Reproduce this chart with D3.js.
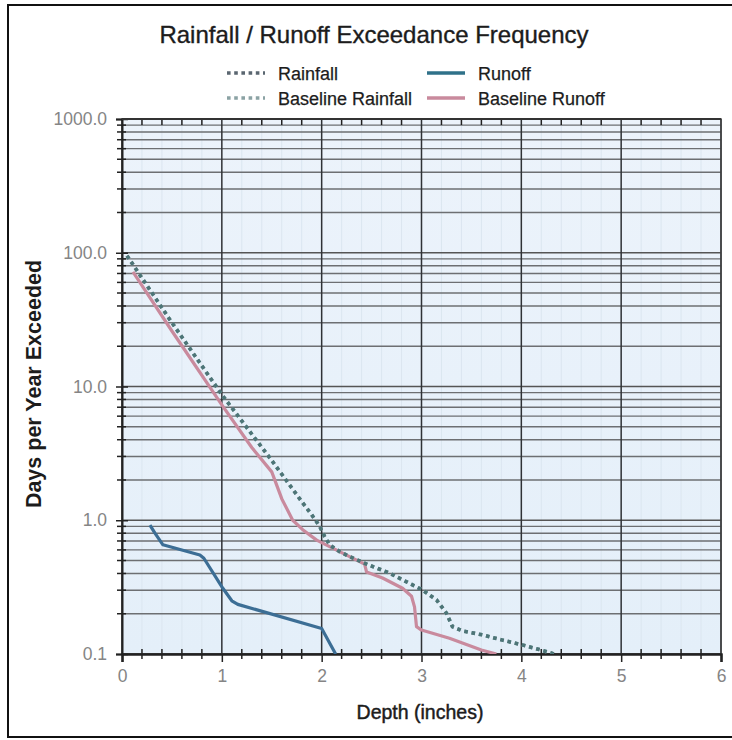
<!DOCTYPE html>
<html><head><meta charset="utf-8">
<script src="https://cdn.jsdelivr.net/npm/d3@7"></script>
<style>body{margin:0;background:#fff;} text{font-family:"Liberation Sans",Arial,sans-serif;}</style>
</head><body><svg id="c" width="732" height="740"></svg>
<script>
// ---- data ----
const title = "Rainfall / Runoff Exceedance Frequency";
const seriesNames = ["Rainfall", "Baseline Rainfall", "Runoff", "Baseline Runoff"];
const xTicks = [0, 1, 2, 3, 4, 5, 6];
const yTicks = [0.1, 1, 10, 100, 1000];
const yTickLabels = ["0.1", "1.0", "10.0", "100.0", "1000.0"];
const rainfallDepth = [0.05, 0.5, 1.0, 1.5, 1.8, 1.9, 1.98, 2.03, 2.08, 2.18, 2.28, 2.43, 2.68, 3.01, 3.15, 3.25, 3.31, 3.41, 3.61, 3.81, 4.01, 4.18, 4.33];
const rainfallDays  = [95, 30, 8.7, 2.8, 1.38, 1.1, 0.9, 0.755, 0.655, 0.583, 0.535, 0.477, 0.402, 0.301, 0.254, 0.202, 0.16, 0.149, 0.139, 0.127, 0.117, 0.108, 0.1];
const baseRainfallDepth = rainfallDepth.slice();
const baseRainfallDays  = rainfallDays.slice();
const runoffDepth = [0.28, 0.33, 0.41, 0.78, 0.82, 1.01, 1.1, 1.16, 2.0, 2.14];
const runoffDays  = [0.92, 0.8, 0.655, 0.55, 0.52, 0.31, 0.25, 0.235, 0.155, 0.1];
const baseRunoffDepth = [0.11, 0.5, 1.0, 1.3, 1.5, 1.6, 1.71, 1.81, 1.95, 2.08, 2.28, 2.43, 2.45, 2.61, 2.81, 2.9, 2.93, 2.95, 3.0, 3.28, 3.6, 3.75];
const baseRunoffDays  = [72, 26, 7.3, 3.5, 2.3, 1.45, 1.0, 0.85, 0.71, 0.635, 0.535, 0.47, 0.41, 0.37, 0.31, 0.27, 0.225, 0.16, 0.151, 0.131, 0.107, 0.1];

// ---- layout ----
const svg = d3.select("#c");
const L = 122, R = 721, T = 119, B = 654;
const x = d3.scaleLinear().domain([0, 6]).range([L, R]);
const y = d3.scaleLog().domain([0.1, 1000]).range([B, T]);

// outer frame
svg.append("rect").attr("x", 8).attr("y", 5).attr("width", 740).attr("height", 732)
  .attr("fill", "#fff").attr("stroke", "#111").attr("stroke-width", 2);

// plot background
const grad = svg.append("defs").append("linearGradient").attr("id", "bg").attr("x1", 0).attr("y1", 0).attr("x2", 0).attr("y2", 1);
grad.append("stop").attr("offset", "0%").attr("stop-color", "#ecf3fb");
grad.append("stop").attr("offset", "100%").attr("stop-color", "#e4eff9");
svg.append("rect").attr("x", L).attr("y", T).attr("width", R - L).attr("height", B - T).attr("fill", "url(#bg)");

// light minor vertical lines
const minorX = d3.range(0, 6.001, 0.2).filter(v => Math.abs(v - Math.round(v)) > 1e-6);
svg.append("g").selectAll("line").data(minorX).join("line")
  .attr("x1", d => x(d)).attr("x2", d => x(d)).attr("y1", T).attr("y2", B)
  .attr("stroke", "#dbe6f0").attr("stroke-width", 1);

// horizontal grid: every 1..9 per decade
const hLines = [];
[0.1, 1, 10, 100].forEach(dec => { for (let k = 1; k <= 9; k++) hLines.push(dec * k); });
hLines.push(1000);
svg.append("g").selectAll("line").data(hLines).join("line")
  .attr("x1", L).attr("x2", R).attr("y1", d => y(d)).attr("y2", d => y(d))
  .attr("stroke", d => yTicks.includes(+d.toPrecision(6)) ? "#555" : "#6d6f72")
  .attr("stroke-width", 1.4);

// vertical major grid
svg.append("g").selectAll("line").data(xTicks).join("line")
  .attr("x1", d => x(d)).attr("x2", d => x(d)).attr("y1", T).attr("y2", B)
  .attr("stroke", "#2f3236").attr("stroke-width", 1.5);

// frame of plot
svg.append("rect").attr("x", L).attr("y", T).attr("width", R - L).attr("height", B - T)
  .attr("fill", "none").attr("stroke", "#444").attr("stroke-width", 1.5);

// left axis
const yAxisG = svg.append("g").attr("transform", `translate(${L},0)`)
  .call(d3.axisLeft(y).tickValues(yTicks).tickFormat((d, i) => yTickLabels[i]).tickSize(6).tickPadding(9));
yAxisG.select(".domain").attr("stroke", "#222").attr("stroke-width", 2);
yAxisG.selectAll(".tick line").attr("stroke", "#222").attr("stroke-width", 1.5).attr("x2", 6).attr("x1", -6);
yAxisG.selectAll(".tick text").attr("fill", "#858585").attr("font-size", 17.5);
// minor left ticks
svg.append("g").selectAll("line").data(hLines.filter(v => !yTicks.includes(+v.toPrecision(6)))).join("line")
  .attr("x1", L - 5).attr("x2", L + 4).attr("y1", d => y(d)).attr("y2", d => y(d))
  .attr("stroke", "#222").attr("stroke-width", 1.5);

// bottom axis
const xAxisG = svg.append("g").attr("transform", `translate(0,${B})`)
  .call(d3.axisBottom(x).tickValues(xTicks).tickFormat(d3.format("d")).tickSize(8).tickPadding(8));
xAxisG.select(".domain").attr("stroke", "#222").attr("stroke-width", 2.5);
xAxisG.selectAll(".tick line").attr("stroke", "#222").attr("stroke-width", 1.5);
xAxisG.selectAll(".tick text").attr("fill", "#858585").attr("font-size", 17.5);
svg.append("g").selectAll("line").data(minorX).join("line")
  .attr("x1", d => x(d)).attr("x2", d => x(d)).attr("y1", B - 5).attr("y2", B + 5)
  .attr("stroke", "#222").attr("stroke-width", 1.5);
// top minor ticks
svg.append("g").selectAll("line").data(minorX).join("line")
  .attr("x1", d => x(d)).attr("x2", d => x(d)).attr("y1", T - 1).attr("y2", T + 6)
  .attr("stroke", "#222").attr("stroke-width", 1.5);
svg.append("line").attr("x1", L).attr("x2", R).attr("y1", T).attr("y2", T).attr("stroke", "#333").attr("stroke-width", 2);

// lines
const line = d3.line().x(d => x(d[0])).y(d => y(d[1]));
const zip = (a, b) => a.map((v, i) => [v, b[i]]);
const clipId = "clipPlot";
svg.append("clipPath").attr("id", clipId).append("rect").attr("x", L).attr("y", T - 2).attr("width", R - L).attr("height", B - T + 2);
const lg = svg.append("g").attr("clip-path", `url(#${clipId})`);
lg.append("path").datum(zip(baseRunoffDepth, baseRunoffDays)).attr("d", line)
  .attr("fill", "none").attr("stroke", "#c98a9d").attr("stroke-width", 3.2).attr("stroke-linejoin", "round");
lg.append("path").datum(zip(runoffDepth, runoffDays)).attr("d", line)
  .attr("fill", "none").attr("stroke", "#3c6e95").attr("stroke-width", 3.2).attr("stroke-linejoin", "round");
lg.append("path").datum(zip(baseRainfallDepth, baseRainfallDays)).attr("d", line)
  .attr("fill", "none").attr("stroke", "#7d9a9c").attr("stroke-width", 3.6).attr("stroke-dasharray", "3.6,3.8");
lg.append("path").datum(zip(rainfallDepth, rainfallDays)).attr("d", line)
  .attr("fill", "none").attr("stroke", "#4d7577").attr("stroke-width", 3.6).attr("stroke-dasharray", "3.6,3.8");

// title
svg.append("text").attr("x", 374).attr("y", 43).attr("text-anchor", "middle")
  .attr("font-size", 24).attr("fill", "#1c1c1c").attr("stroke", "#1c1c1c").attr("stroke-width", 0.35).text(title);

// legend
const legendItems = [
  { name: seriesNames[0], x: 227, y: 73, color: "#5a6670", dash: "3.6,3.6" },
  { name: seriesNames[1], x: 227, y: 98, color: "#8ba2a4", dash: "3.6,3.6" },
  { name: seriesNames[2], x: 427, y: 73, color: "#2f7189", dash: null },
  { name: seriesNames[3], x: 427, y: 98, color: "#c98a9d", dash: null }
];
const lgG = svg.append("g").selectAll("g").data(legendItems).join("g");
lgG.append("line").attr("x1", d => d.x).attr("x2", d => d.x + 38).attr("y1", d => d.y).attr("y2", d => d.y)
  .attr("stroke", d => d.color).attr("stroke-width", 3.4).attr("stroke-dasharray", d => d.dash);
lgG.append("text").attr("x", d => d.x + 51).attr("y", d => d.y + 6.5).attr("font-size", 18).attr("fill", "#1c1c1c")
  .attr("stroke", "#1c1c1c").attr("stroke-width", 0.25).text(d => d.name);

// axis titles
svg.append("text").attr("x", 420).attr("y", 719).attr("text-anchor", "middle")
  .attr("font-size", 19.5).attr("fill", "#1c1c1c").attr("stroke", "#1c1c1c").attr("stroke-width", 0.45).text("Depth (inches)");
svg.append("text").attr("transform", "translate(41,384) rotate(-90)").attr("text-anchor", "middle")
  .attr("font-size", 21.5).attr("font-weight", "bold").attr("fill", "#1c1c1c").text("Days per Year Exceeded");
</script></body></html>
